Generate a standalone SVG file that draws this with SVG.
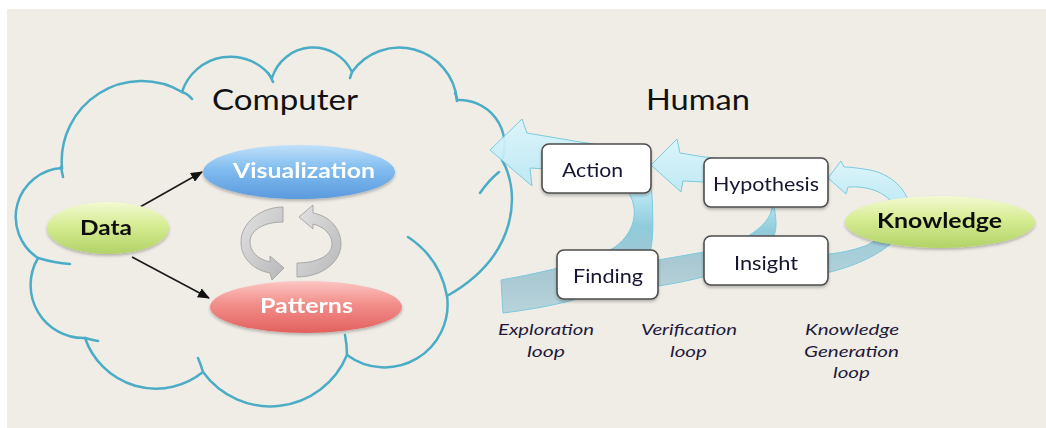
<svg xmlns="http://www.w3.org/2000/svg" width="1046" height="428" viewBox="0 0 1046 428">
<defs>
<style>
.cloud{fill:none;stroke:#4bacc6;stroke-width:2.5;stroke-linecap:round}
.box{fill:#ffffff;stroke:#4d4d4d;stroke-width:1.6}
.btxt{font-family:"Lato","Open Sans",sans-serif;font-size:19px;fill:#151530}
.title{font-family:"Lato","Open Sans",sans-serif;font-size:29px;fill:#111}
.etxt{font-family:"Lato","Open Sans",sans-serif;font-size:20px;font-weight:bold}
.lbl{font-family:"Lato","Open Sans",sans-serif;font-size:15px;font-style:italic;fill:#1f1a3a}
.conn{stroke:#1a1a1a;stroke-width:1.6;fill:none}
.gray{fill:url(#gGray);stroke:#a3a3a3;stroke-width:0.9}
.loop{stroke:#72c6dc;stroke-width:1}
</style>
<marker id="ah" viewBox="0 0 12 10" refX="11" refY="5" markerWidth="12" markerHeight="10" markerUnits="userSpaceOnUse" orient="auto">
<path d="M0,0 L12,5 L0,10 Z" fill="#111"/>
</marker>
<filter id="sh" x="-20%" y="-20%" width="140%" height="170%">
<feDropShadow dx="0" dy="2" stdDeviation="1.8" flood-color="#000" flood-opacity="0.25"/>
</filter>
<linearGradient id="gGreen" x1="0" y1="0" x2="0" y2="1">
<stop offset="0" stop-color="#f3fad2"/><stop offset="0.45" stop-color="#d6ec93"/><stop offset="1" stop-color="#b2d266"/>
</linearGradient>
<linearGradient id="gBlue" x1="0" y1="0" x2="0" y2="1">
<stop offset="0" stop-color="#c0e0fa"/><stop offset="0.45" stop-color="#80bcef"/><stop offset="1" stop-color="#5b9ade"/>
</linearGradient>
<linearGradient id="gRed" x1="0" y1="0" x2="0" y2="1">
<stop offset="0" stop-color="#fcc6c3"/><stop offset="0.45" stop-color="#f28e8a"/><stop offset="1" stop-color="#e2605e"/>
</linearGradient>
<linearGradient id="gGray" x1="0" y1="0" x2="1" y2="1">
<stop offset="0" stop-color="#e2e2e2"/><stop offset="1" stop-color="#b8b8b8"/>
</linearGradient>
<linearGradient id="gE" gradientUnits="userSpaceOnUse" x1="0" y1="118" x2="0" y2="315">
<stop offset="0" stop-color="#dcf6fc"/><stop offset="0.38" stop-color="#b6e8f5"/><stop offset="0.55" stop-color="#88c9da"/><stop offset="0.8" stop-color="#a2c6d1"/><stop offset="1" stop-color="#b6d2da"/>
</linearGradient>
<linearGradient id="gV" gradientUnits="userSpaceOnUse" x1="0" y1="138" x2="0" y2="294">
<stop offset="0" stop-color="#dcf6fc"/><stop offset="0.4" stop-color="#b6e8f5"/><stop offset="0.6" stop-color="#88c9da"/><stop offset="0.8" stop-color="#a4c7d1"/><stop offset="1" stop-color="#b4d1d9"/>
</linearGradient>
<linearGradient id="gK" gradientUnits="userSpaceOnUse" x1="0" y1="160" x2="0" y2="282">
<stop offset="0" stop-color="#dcf6fc"/><stop offset="0.4" stop-color="#b9e9f5"/><stop offset="0.65" stop-color="#98cbd8"/><stop offset="1" stop-color="#b2d0d8"/>
</linearGradient>
</defs>

<rect x="7" y="9" width="1039" height="419" fill="#f0ede7"/>

<g id="cloud">
<path class="cloud" d="M62,168 A80 80 0 0 1 182,92 A51 51 0 0 1 272,78 A43 43 0 0 1 352,72 A58 58 0 0 1 457,100 A45 45 0 0 1 502,160 C520,190 520,255 447,296 A63 63 0 0 1 347,355 A83 83 0 0 1 203,372 A75 75 0 0 1 85,338 A53 53 0 0 1 38,258 A49 49 0 0 1 62,168 Z"/>
<path class="cloud" d="M182,92 Q188,94 192,99 M268,73 Q271,77 273,82 M352,72 Q351,75 350,78 M455,93 Q457,97 457,101 M480,193 Q489,180 499,172 M408,237 Q440,258 447,296 M345,335 Q347,345 347,355 M198,358 Q201,365 203,372 M85,338 Q92,340 98,341 M38,258 Q55,263 70,264 M61,167 Q62,172 63,177"/>
</g>

<g id="titles">
<text class="title" x="212" y="110" textLength="146" lengthAdjust="spacingAndGlyphs">Computer</text>
<text class="title" x="646" y="110" textLength="104" lengthAdjust="spacingAndGlyphs">Human</text>
</g>

<g id="connectors">
<line class="conn" x1="140" y1="207" x2="202" y2="172" marker-end="url(#ah)"/>
<line class="conn" x1="132" y1="257" x2="209" y2="298" marker-end="url(#ah)"/>
<path class="gray" d="M283,207 C262,207 241,222 241,242 C241,258 253,270 270,273 L272,280 L284,268 L270,256 L270,262 C257,259 250,251 250,242 C250,230 264,222 283,222 Z"/>
<path class="gray" d="M297,277 C322,277 341,262 341,244 C341,229 330,216 313,213 L313,205 L299,217 L313,229 L313,224 C325,227 332,235 332,244 C332,256 316,263 297,263 Z"/>
<path id="loopE" class="loop" fill="url(#gE)" opacity="0.92" d="M501,280 L503,313 C560,306 620,292 645,264 C655,250 653,220 652,195 C650,165 620,146 580,142 L527,133 L522,119 L490,150 L532,186 L530,168 L600,172 C640,185 645,225 615,247 C590,262 545,272 501,280 Z"/>
<path id="loopV" class="loop" fill="url(#gV)" opacity="0.92" d="M600,264 L600,293 C630,291 680,284 710,275 C745,265 776,250 776,225 C776,195 760,160 704,157 L680,153 L677,139 L651,165 L681,192 L683,181 L704,182 C745,184 772,195 772,208 C770,222 755,232 745,238 C730,246 715,250 704,252 L658,260 Z"/>
<path id="loopK" class="loop" fill="url(#gK)" opacity="0.92" d="M770,260 L770,280 C800,279 828,274 850,266 C875,257 905,240 910,215 C912,195 895,175 870,170 C858,168 850,167 844,167 L841,161 L828,178 L846,194 L848,187 C865,186 880,190 890,200 C898,215 885,238 865,246 C850,251 840,253 828,254 Z"/>
</g>

<g id="node-data" filter="url(#sh)">
<ellipse cx="108" cy="228" rx="61" ry="26" fill="url(#gGreen)"/>
<text class="etxt" x="80" y="235" fill="#111" textLength="52" lengthAdjust="spacingAndGlyphs">Data</text>
</g>
<g id="node-visualization" filter="url(#sh)">
<ellipse cx="299" cy="172" rx="96" ry="27" fill="url(#gBlue)"/>
<text class="etxt" x="233" y="178" fill="#ffffff" textLength="142" lengthAdjust="spacingAndGlyphs">Visualization</text>
</g>
<g id="node-patterns" filter="url(#sh)">
<ellipse cx="306" cy="307" rx="96" ry="26" fill="url(#gRed)"/>
<text class="etxt" x="260" y="313" fill="#ffffff" textLength="93" lengthAdjust="spacingAndGlyphs">Patterns</text>
</g>
<g id="node-knowledge" filter="url(#sh)">
<ellipse cx="940" cy="222" rx="95" ry="26" fill="url(#gGreen)"/>
<text class="etxt" x="877" y="228" fill="#111" textLength="125" lengthAdjust="spacingAndGlyphs">Knowledge</text>
</g>
<g id="node-action" filter="url(#sh)">
<rect class="box" x="542" y="144" width="109" height="49" rx="7"/>
<text class="btxt" x="562" y="177" textLength="61" lengthAdjust="spacingAndGlyphs">Action</text>
</g>
<g id="node-hypothesis" filter="url(#sh)">
<rect class="box" x="704" y="158" width="124" height="49" rx="7"/>
<text class="btxt" x="713" y="191" textLength="106" lengthAdjust="spacingAndGlyphs">Hypothesis</text>
</g>
<g id="node-finding" filter="url(#sh)">
<rect class="box" x="557" y="250" width="101" height="49" rx="7"/>
<text class="btxt" x="573" y="283" textLength="70" lengthAdjust="spacingAndGlyphs">Finding</text>
</g>
<g id="node-insight" filter="url(#sh)">
<rect class="box" x="704" y="236" width="124" height="49" rx="7"/>
<text class="btxt" x="734" y="270" textLength="64" lengthAdjust="spacingAndGlyphs">Insight</text>
</g>

<g id="labels">
<text class="lbl" x="498" y="335" textLength="96" lengthAdjust="spacingAndGlyphs">Exploration</text>
<text class="lbl" x="527" y="357" textLength="38" lengthAdjust="spacingAndGlyphs">loop</text>
<text class="lbl" x="641" y="335" textLength="96" lengthAdjust="spacingAndGlyphs">Verification</text>
<text class="lbl" x="670" y="357" textLength="37" lengthAdjust="spacingAndGlyphs">loop</text>
<text class="lbl" x="805" y="335" textLength="94" lengthAdjust="spacingAndGlyphs">Knowledge</text>
<text class="lbl" x="804" y="357" textLength="95" lengthAdjust="spacingAndGlyphs">Generation</text>
<text class="lbl" x="833" y="378" textLength="37" lengthAdjust="spacingAndGlyphs">loop</text>
</g>
</svg>
